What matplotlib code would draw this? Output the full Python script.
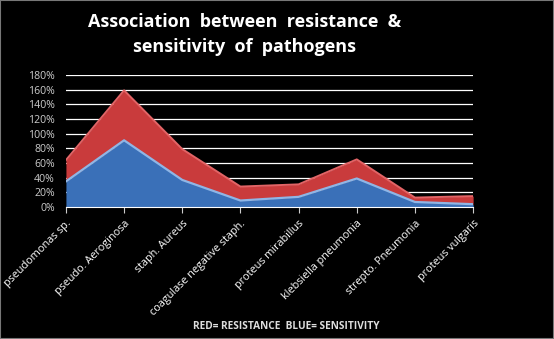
import matplotlib.pyplot as plt
from matplotlib.patches import Rectangle
from matplotlib.ticker import FuncFormatter

plt.rcParams['font.family'] = ['Open Sans', 'DejaVu Sans']

categories = ['pseudomonas sp.', 'pseudo. Aeroginosa', 'staph. Aureus',
              'coagulase negative staph.', 'proteus mirabillus',
              'klebsiella pneumonia', 'strepto. Pneumonia', 'proteus vulgaris']
sensitivity = [35, 91, 37, 9, 14, 39, 7, 4]
resistance = [29, 68, 42, 19, 17, 26, 6, 11]
yticks = [0, 20, 40, 60, 80, 100, 120, 140, 160, 180]

x = list(range(len(categories)))
total = [s + r for s, r in zip(sensitivity, resistance)]

fig = plt.figure(figsize=(5.54, 3.39), dpi=100, facecolor='black')
ax = fig.add_axes([0.119, 0.389, 0.735, 0.39])
ax.set_facecolor('black')

# stacked areas: blue sensitivity, red resistance on top
ax.fill_between(x, 0, sensitivity, color='#3a70b8', zorder=3, lw=0)
ax.fill_between(x, sensitivity, total, color='#c93b3c', zorder=3, lw=0)
ax.plot(x, sensitivity, color='#8fb6e6', lw=1.6, zorder=4)
ax.plot(x, total, color='#e26466', lw=1.4, zorder=4)

ax.set_xlim(0, len(categories) - 1)
ax.set_ylim(0, 180)
ax.set_yticks(yticks)
ax.yaxis.set_major_formatter(FuncFormatter(lambda v, p: f'{v:.0f}%'))
ax.grid(axis='y', color='white', lw=0.9, zorder=1)
ax.set_axisbelow(True)

for s in ['top', 'right', 'left']:
    ax.spines[s].set_visible(False)
ax.spines['bottom'].set_color('white')
ax.spines['bottom'].set_zorder(5)

ax.set_xticks(x)
ax.set_xticklabels(categories, rotation=45, ha='right', rotation_mode='anchor',
                   fontsize=7.8, color='white')
ax.tick_params(axis='x', colors='#cccccc', length=4, direction='out', pad=4)
ax.tick_params(axis='y', colors='#cccccc', length=0, labelsize=7.6, pad=8)
for lbl in ax.get_xticklabels():
    lbl.set_color('white')

fig.text(0.442, 0.898, 'Association  between  resistance  &\nsensitivity  of  pathogens',
         ha='center', va='center', fontsize=13, fontweight='bold', color='white',
         linespacing=1.45)
fig.text(0.517, 0.038, 'RED= RESISTANCE  BLUE= SENSITIVITY', ha='center', va='center',
         fontsize=7.3, fontweight='bold', color='#dddddd')

fig.patches.append(Rectangle((0, 0), 1, 1, transform=fig.transFigure, fill=False,
                             edgecolor='#777777', lw=1.5))

fig.savefig('out.png', dpi=100, facecolor='black')
